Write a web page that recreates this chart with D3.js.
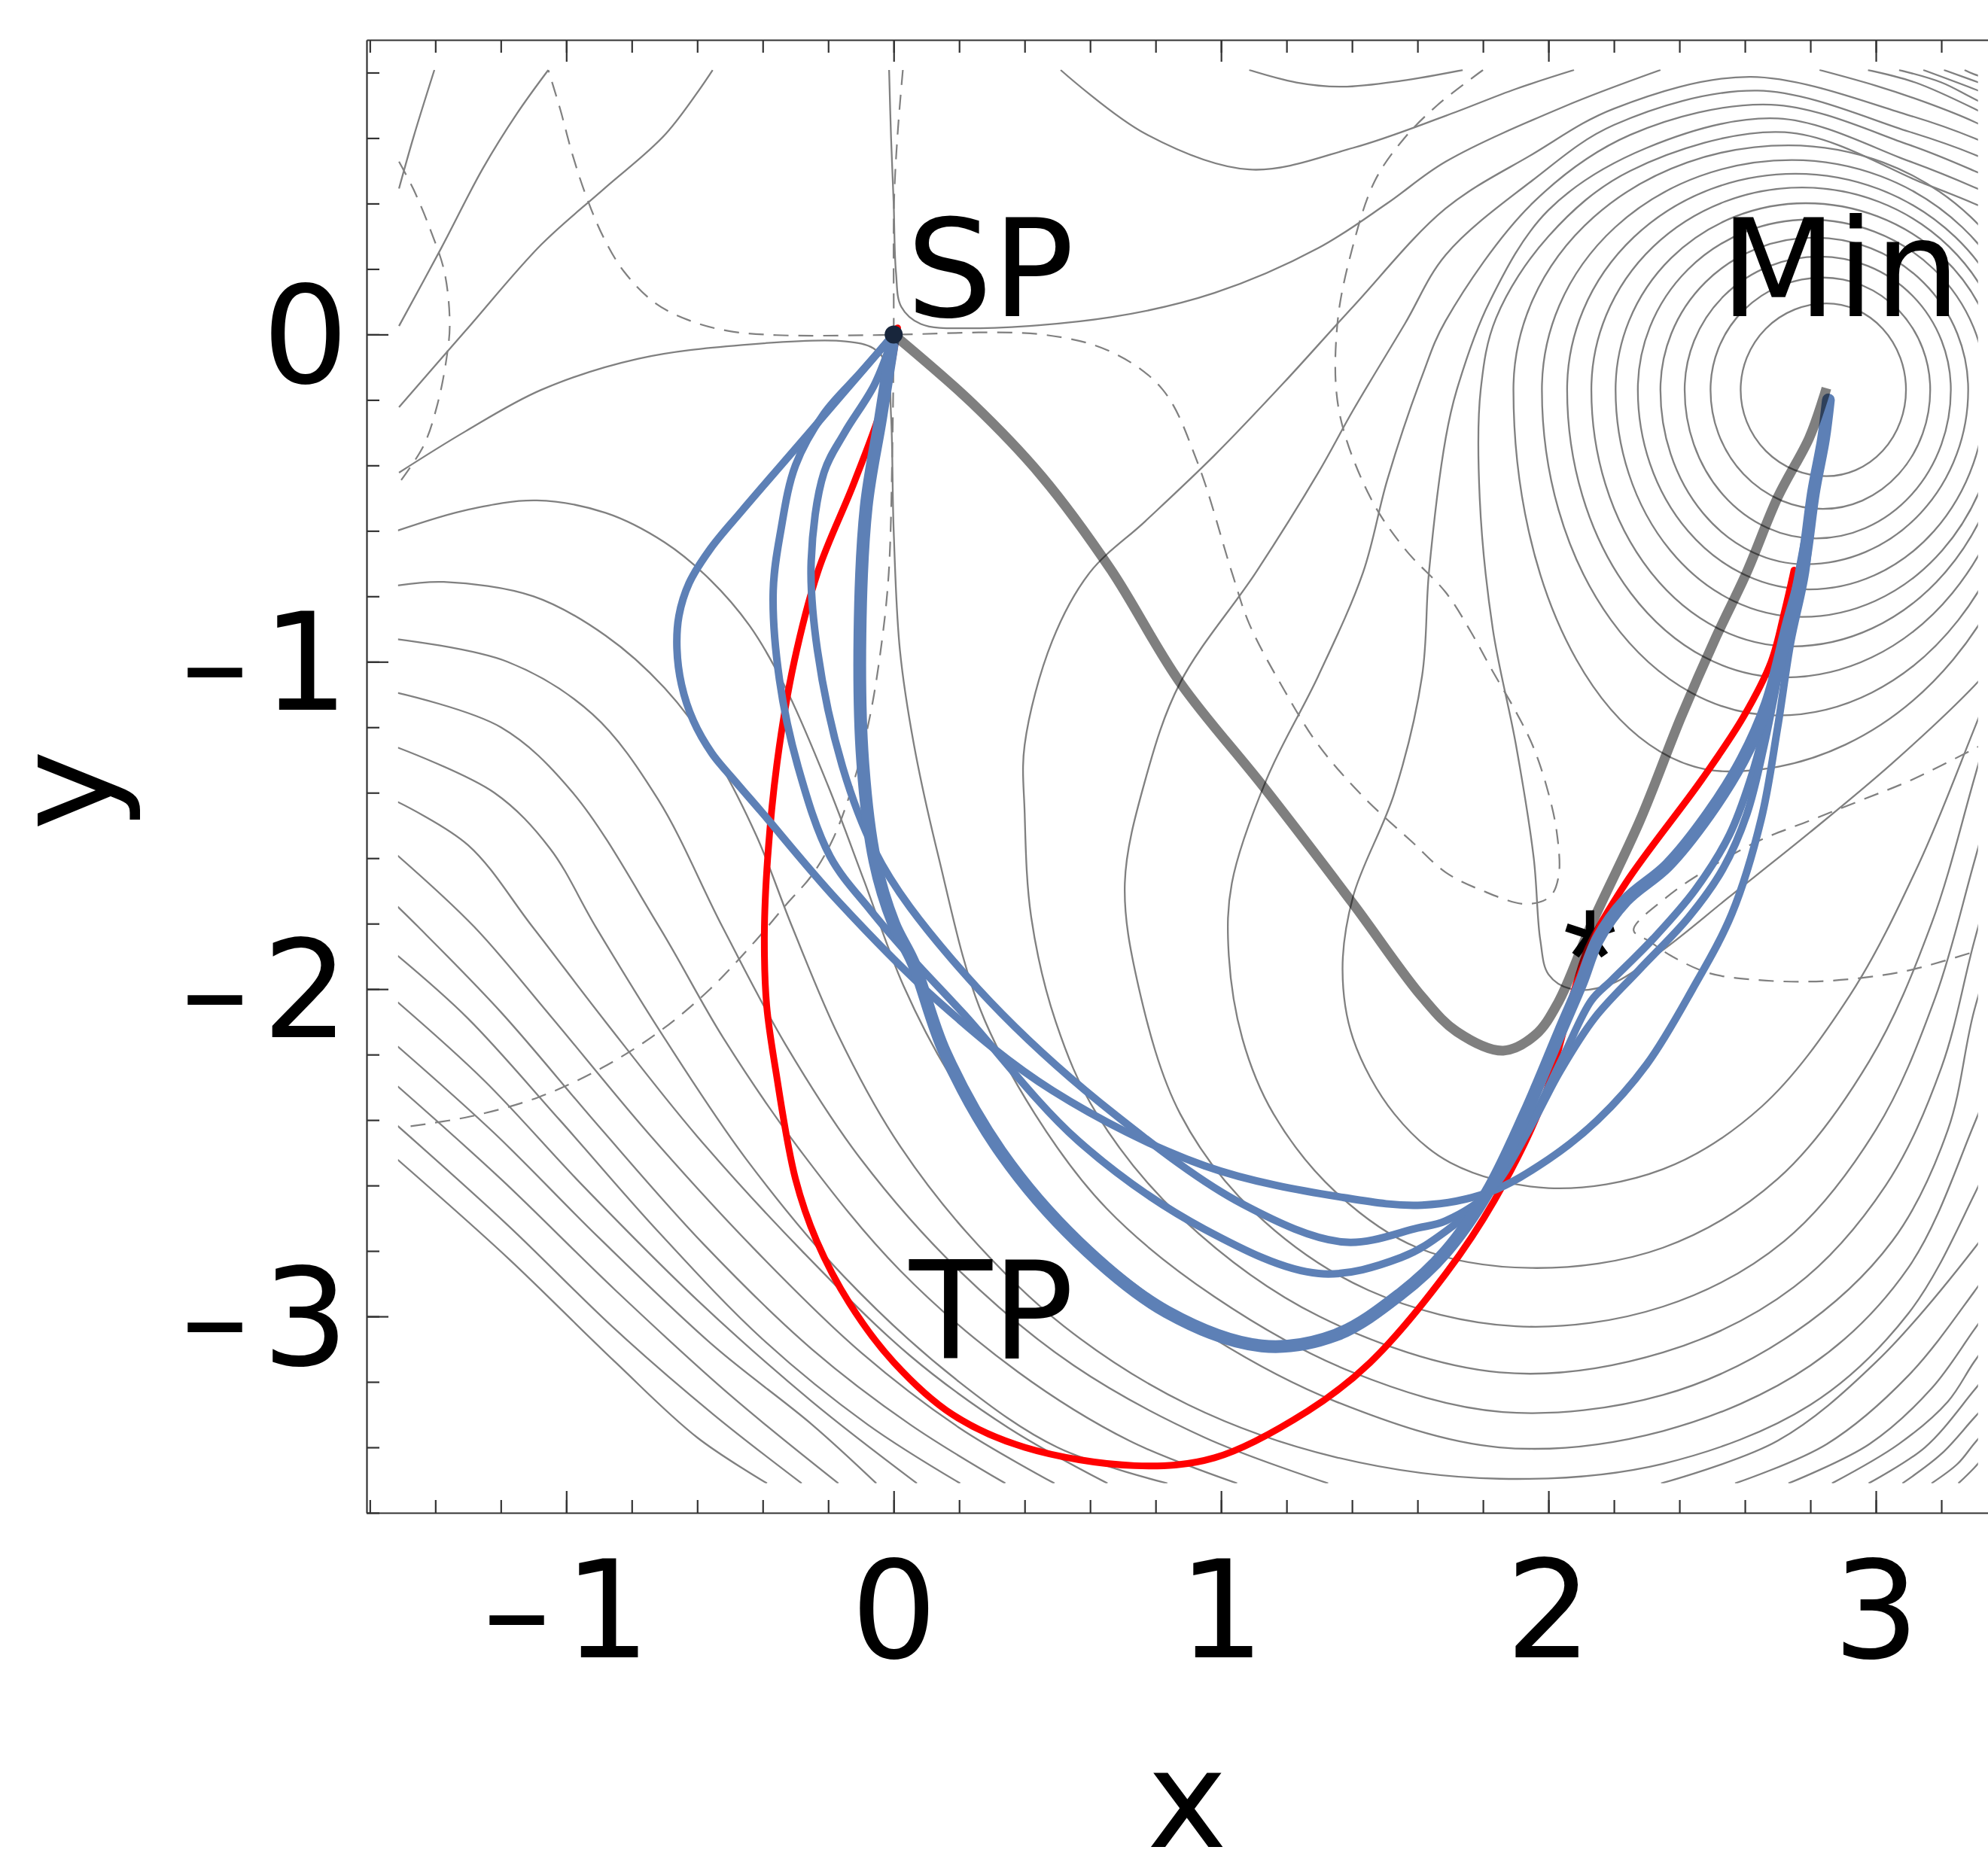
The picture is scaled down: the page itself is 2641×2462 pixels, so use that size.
<!DOCTYPE html>
<html>
<head>
<meta charset="utf-8">
<script src="https://cdn.jsdelivr.net/npm/d3@7"></script>
<style>
  body { margin: 0; background: #fff; }
  text { font-family: "DejaVu Sans", sans-serif; }
</style>
</head>
<body>
<svg id="chart"></svg>
<script>
// ---- tick labels ----
const xMajor = [-1, 0, 1, 2, 3];
const yMajor = [-3, -2, -1, 0];

// ---- point labels ----
const labelNames = ['SP', 'Min', 'TP'];
const labelAt = [[0.039, 0.056], [2.524, 0.056], [0.048, -3.128]];
const starAt = [2.127, -1.835];

// ---- trajectories (x, y) ----
const grayPath = [[0,0],[0.241,-0.211],[0.452,-0.433],[0.663,-0.718],[0.875,-1.064],[1.128,-1.380],
  [1.403,-1.739],[1.614,-2.024],[1.72,-2.13],[1.862,-2.188],[1.96,-2.14],[2.03,-2.04],[2.131,-1.803],
  [2.279,-1.486],[2.405,-1.169],[2.511,-0.926],[2.606,-0.726],[2.701,-0.496],[2.796,-0.317],[2.838,-0.20],[2.849,-0.164]];

const redPath = [[0.012,0.02],[-0.03,-0.2],[-0.12,-0.45],[-0.23,-0.72],[-0.304,-1.0],[-0.355,-1.30],
  [-0.385,-1.6],[-0.395,-1.834],[-0.388,-2.05],[-0.36,-2.25],[-0.30,-2.58],[-0.235,-2.77],[-0.135,-2.96],
  [0.0,-3.14],[0.18,-3.30],[0.40,-3.40],[0.737,-3.456],[0.980,-3.432],[1.265,-3.289],[1.455,-3.141],
  [1.686,-2.87],[1.835,-2.645],[1.98,-2.35],[2.08,-2.0],[2.120,-1.877],[2.236,-1.676],[2.469,-1.359],
  [2.595,-1.169],[2.680,-1.000],[2.722,-0.842],[2.75,-0.72]];

const blueLoop = [[0,0],[-0.263,-0.306],[-0.463,-0.538],[-0.56,-0.655],[-0.625,-0.76],[-0.656,-0.86],
  [-0.662,-0.96],[-0.648,-1.07],[-0.612,-1.18],[-0.555,-1.28],[-0.48,-1.37],[-0.405,-1.457],[-0.173,-1.728],
  [0.137,-2.038],[0.485,-2.31],[0.95,-2.54],[1.376,-2.637],[1.614,-2.66],[1.82,-2.62],[2.0,-2.52],[2.15,-2.40],
  [2.30,-2.23],[2.44,-2.0],[2.56,-1.77],[2.65,-1.48],[2.70,-1.20],[2.74,-0.94],[2.785,-0.726],[2.807,-0.496],
  [2.838,-0.338],[2.855,-0.2]];

const blueWide = [[0,0],[-0.10,-0.115],[-0.213,-0.242],[-0.30,-0.40],[-0.345,-0.60],[-0.368,-0.783],
  [-0.349,-1.054],[-0.291,-1.325],[-0.194,-1.595],[-0.07,-1.76],[0.05,-1.90],[0.214,-2.076],[0.563,-2.463],
  [0.950,-2.734],[1.298,-2.869],[1.55,-2.82],[1.686,-2.740],[1.82,-2.62],[1.93,-2.44],
  [2.046,-2.204],[2.131,-2.035],[2.194,-1.972],[2.321,-1.845],[2.448,-1.697],[2.553,-1.528],[2.617,-1.359],
  [2.669,-1.169],[2.72,-0.95],[2.77,-0.73],[2.81,-0.48],[2.84,-0.32],[2.855,-0.2]];

const blueMid = [[0,0],[-0.058,-0.152],[-0.15,-0.30],[-0.213,-0.422],[-0.252,-0.693],[-0.233,-0.964],
  [-0.155,-1.325],[-0.058,-1.577],[0.05,-1.75],[0.331,-2.076],[0.679,-2.386],[1.066,-2.657],[1.376,-2.773],
  [1.60,-2.73],[1.686,-2.708],[1.82,-2.62],[1.94,-2.43],
  [2.036,-2.25],[2.141,-2.088],[2.278,-1.940],[2.427,-1.782],[2.532,-1.634],[2.606,-1.465],[2.66,-1.25],
  [2.71,-1.0],[2.76,-0.75],[2.81,-0.48],[2.84,-0.32],[2.855,-0.2]];

const blueThick = [[0,0],[-0.04,-0.256],[-0.084,-0.527],[-0.103,-0.914],[-0.095,-1.30],[-0.057,-1.61],
  [0.0,-1.80],[0.06,-1.92],[0.156,-2.193],[0.33,-2.502],[0.563,-2.773],[0.834,-2.986],[1.124,-3.09],
  [1.350,-3.057],[1.55,-2.93],[1.686,-2.803],[1.814,-2.62],[1.93,-2.381],[2.036,-2.13],
  [2.10,-1.98],[2.15,-1.85],[2.236,-1.729],[2.363,-1.623],[2.490,-1.465],[2.595,-1.296],[2.669,-1.127],
  [2.733,-0.884],[2.775,-0.726],[2.81,-0.48],[2.84,-0.32],[2.855,-0.2]];

// ---- closed rings around Min: [top, right, bottom, left] ----
const rings = [
  [[2.849,0.095],[3.092,-0.169],[2.849,-0.433],[2.587,-0.169]],
  [[2.838,0.174],[3.166,-0.169],[2.838,-0.533],[2.495,-0.169]],
  [[2.828,0.238],[3.229,-0.169],[2.817,-0.623],[2.416,-0.169]],
  [[2.812,0.296],[3.282,-0.169],[2.786,-0.702],[2.342,-0.169]],
  [[2.796,0.351],[3.336,-0.169],[2.796,-0.779],[2.273,-0.169]],
  [[2.786,0.401],[3.38,-0.169],[2.775,-0.863],[2.205,-0.169]],
  [[2.775,0.449],[3.41,-0.169],[2.743,-0.953],[2.131,-0.169]],
  [[2.754,0.491],[3.445,-0.169],[2.722,-1.048],[2.057,-0.169]],
  [[2.743,0.533],[3.48,-0.169],[2.701,-1.164],[1.980,-0.169]],
  [[2.733,0.578],[3.52,-0.169],[2.55,-1.335],[1.893,-0.169]]
];

// ---- open contour lines ----
const upperLines = [
  [[-1.511,0.446],[-1.467,0.602],[-1.403,0.808]],
  [[-1.511,0.026],[-1.382,0.264],[-1.255,0.507],[-1.150,0.676],[-1.055,0.808]],
  [[-1.511,-0.222],[-1.308,0.011],[-1.076,0.275],[-0.886,0.444],[-0.696,0.613],[-0.553,0.808]],
  [[-0.014,0.808],[-0.008,0.6],[0.0,0.40],[0.007,0.190],[0.023,0.085],[0.083,0.032],[0.241,0.019],[0.664,0.053],
   [0.980,0.127],[1.297,0.264],[1.508,0.401],[1.686,0.528],[2.047,0.696],[2.342,0.808]],
  [[0.51,0.808],[0.769,0.613],[1.086,0.504],[1.403,0.570],[1.686,0.668],[1.9,0.75],[2.078,0.808]],
  [[1.086,0.808],[1.23,0.77],[1.371,0.757],[1.55,0.775],[1.738,0.808]],
  [[2.828,0.808],[3.0,0.76],[3.15,0.71],[3.3,0.65],[3.45,0.57]],
  [[2.976,0.808],[3.12,0.77],[3.3,0.69],[3.45,0.61]],
  [[3.071,0.808],[3.2,0.77],[3.3,0.72],[3.45,0.65]],
  [[3.145,0.808],[3.3,0.75],[3.45,0.69]],
  [[3.208,0.808],[3.3,0.775],[3.45,0.72]],
  [[3.271,0.808],[3.3,0.795],[3.45,0.75]]
];

const horseshoes = [
  [[3.45,0.33],[3.30,0.40],[3.15,0.46],[2.722,0.618],[2.25,0.50],[2.0,0.30],[1.84,0.05],[1.793,-0.169],[1.79,-0.5],
   [1.83,-0.9],[1.9,-1.25],[1.955,-1.6],[1.975,-1.85],[2.0,-1.955],[2.07,-2.0],[2.19,-1.985],[2.35,-1.88],[2.55,-1.72],
   [2.8,-1.52],[3.05,-1.31],[3.3,-1.074],[3.45,-0.9]],
  [[3.45,0.38],[3.30,0.45],[3.1,0.53],[2.701,0.660],[2.3,0.57],[2.0,0.38],[1.82,0.10],[1.72,-0.169],[1.686,-0.317],
   [1.635,-0.726],[1.614,-1.043],[1.529,-1.402],[1.403,-1.718],[1.371,-1.940],[1.403,-2.151],[1.529,-2.381],[1.70,-2.53],
   [2.0,-2.608],[2.35,-2.55],[2.65,-2.36],[2.92,-2.02],[3.13,-1.62],[3.3,-1.206],[3.42,-0.9]],
  [[3.45,0.43],[3.30,0.50],[3.1,0.58],[2.680,0.702],[2.25,0.61],[1.95,0.40],[1.686,0.042],[1.614,-0.127],[1.508,-0.443],
   [1.434,-0.726],[1.297,-1.043],[1.139,-1.359],[1.033,-1.676],[1.023,-1.887],[1.065,-2.151],[1.160,-2.381],[1.35,-2.62],
   [1.6,-2.79],[1.95,-2.852],[2.35,-2.79],[2.7,-2.58],[2.98,-2.22],[3.17,-1.80],[3.3,-1.359],[3.4,-1.0]],
  [[3.45,0.48],[3.30,0.55],[3.1,0.62],[2.638,0.745],[2.2,0.64],[1.95,0.47],[1.686,0.243],[1.561,0.032],[1.403,-0.232],
   [1.297,-0.422],[1.107,-0.726],[0.875,-1.064],[0.769,-1.359],[0.706,-1.676],[0.748,-1.993],[0.875,-2.381],[1.1,-2.68],
   [1.45,-2.92],[1.9,-3.030],[2.35,-2.97],[2.72,-2.77],[3.0,-2.43],[3.18,-2.03],[3.3,-1.613],[3.4,-1.25]],
  [[3.45,0.53],[3.30,0.60],[3.1,0.67],[2.617,0.787],[2.2,0.69],[1.95,0.55],[1.686,0.385],[1.403,0.085],[1.192,-0.147],
   [0.980,-0.369],[0.769,-0.570],[0.600,-0.726],[0.484,-0.937],[0.40,-1.254],[0.40,-1.46],[0.42,-1.78],[0.495,-2.10],
   [0.62,-2.381],[0.88,-2.70],[1.3,-3.0],[1.85,-3.171],[2.35,-3.11],[2.75,-2.91],[3.03,-2.60],[3.2,-2.24],[3.3,-1.856],[3.4,-1.5]],
  [[-1.511,-0.422],[-1.308,-0.296],[-1.076,-0.169],[-0.780,-0.074],[-0.463,-0.032],[-0.147,-0.021],[-0.062,-0.042],
   [-0.022,-0.09],[-0.008,-0.25],[0.0,-0.60],[0.019,-0.964],[0.062,-1.254],[0.136,-1.592],[0.262,-2.056],[0.431,-2.381],
   [0.65,-2.67],[0.98,-2.94],[1.4,-3.17],[1.86,-3.292],[2.35,-3.24],[2.75,-3.05],[3.05,-2.77],[3.22,-2.43],[3.3,-2.067],[3.4,-1.75]],
  [[-1.515,-0.599],[-1.30,-0.535],[-1.09,-0.507],[-0.88,-0.545],[-0.70,-0.635],[-0.56,-0.75],[-0.44,-0.89],[-0.33,-1.08],
   [-0.20,-1.38],[-0.09,-1.67],[0.03,-1.99],[0.17,-2.26],[0.32,-2.47],[0.58,-2.77],[0.95,-3.05],[1.35,-3.26],[1.85,-3.40],
   [2.35,-3.35],[2.8,-3.15],[3.1,-2.85],[3.3,-2.413],[3.4,-2.15]],
  [[-1.515,-0.767],[-1.374,-0.756],[-1.10,-0.80],[-0.88,-0.92],[-0.70,-1.08],[-0.55,-1.28],[-0.42,-1.53],[-0.31,-1.81],
   [-0.17,-2.14],[0.0,-2.45],[0.22,-2.74],[0.52,-3.03],[0.9,-3.27],[1.35,-3.43],[1.85,-3.496],[2.35,-3.45],[2.8,-3.27],
   [3.1,-2.99],[3.3,-2.629],[3.4,-2.4]]
];

const lowerLeftLines = [
  [[-1.515,-0.931],[-1.18,-1.00],[-0.92,-1.16],[-0.72,-1.42],[-0.523,-1.81],[-0.33,-2.17],[-0.10,-2.52],[0.20,-2.86],[0.55,-3.15],[0.95,-3.37],[1.327,-3.51]],
  [[-1.515,-1.095],[-1.20,-1.20],[-0.98,-1.40],[-0.716,-1.81],[-0.52,-2.15],[-0.28,-2.50],[0.02,-2.86],[0.38,-3.17],[0.72,-3.38],[1.049,-3.51]],
  [[-1.515,-1.262],[-1.22,-1.40],[-1.05,-1.57],[-0.910,-1.81],[-0.70,-2.15],[-0.45,-2.52],[-0.15,-2.88],[0.20,-3.20],[0.50,-3.40],[0.836,-3.51]],
  [[-1.515,-1.428],[-1.30,-1.56],[-1.103,-1.81],[-0.88,-2.10],[-0.60,-2.45],[-0.28,-2.80],[0.05,-3.12],[0.35,-3.34],[0.653,-3.51]],
  [[-1.515,-1.592],[-1.281,-1.81],[-1.05,-2.08],[-0.75,-2.44],[-0.42,-2.80],[-0.10,-3.11],[0.20,-3.34],[0.491,-3.51]],
  [[-1.515,-1.748],[-1.452,-1.81],[-1.20,-2.07],[-0.90,-2.42],[-0.58,-2.78],[-0.25,-3.10],[0.05,-3.33],[0.341,-3.51]],
  [[-1.515,-1.898],[-1.30,-2.09],[-1.02,-2.40],[-0.72,-2.74],[-0.40,-3.07],[-0.08,-3.33],[0.203,-3.51]],
  [[-1.515,-2.040],[-1.25,-2.28],[-0.95,-2.60],[-0.60,-2.95],[-0.25,-3.26],[0.071,-3.51]],
  [[-1.515,-2.175],[-1.22,-2.44],[-0.90,-2.76],[-0.55,-3.09],[-0.25,-3.33],[-0.053,-3.51]],
  [[-1.515,-2.297],[-1.20,-2.58],[-0.85,-2.92],[-0.50,-3.24],[-0.169,-3.51]],
  [[-1.515,-2.418],[-1.18,-2.72],[-0.85,-3.04],[-0.55,-3.30],[-0.281,-3.51]],
  [[-1.515,-2.521],[-1.18,-2.82],[-0.85,-3.14],[-0.60,-3.37],[-0.387,-3.51]]
];

const lowerRightLines = [
  [[2.344,-3.51],[2.7,-3.38],[3.0,-3.14],[3.3,-2.793],[3.4,-2.65]],
  [[2.570,-3.51],[2.85,-3.39],[3.1,-3.18],[3.3,-2.925],[3.4,-2.78]],
  [[2.733,-3.51],[2.98,-3.39],[3.17,-3.22],[3.3,-3.041],[3.4,-2.9]],
  [[2.866,-3.51],[3.07,-3.39],[3.22,-3.26],[3.3,-3.139],[3.4,-3.0]],
  [[2.978,-3.51],[3.15,-3.40],[3.3,-3.226],[3.4,-3.1]],
  [[3.081,-3.51],[3.2,-3.42],[3.3,-3.310],[3.4,-3.2]],
  [[3.170,-3.51],[3.25,-3.45],[3.3,-3.389],[3.4,-3.27]],
  [[3.252,-3.51],[3.3,-3.463],[3.4,-3.35]]
];

// ---- dashed curves ----
const dashedLines = [
  [[1.80,0.808],[1.66,0.70],[1.56,0.60],[1.47,0.47],[1.40,0.26],[1.355,0.03],[1.36,-0.232],[1.455,-0.496],[1.561,-0.655],
   [1.687,-0.789],[1.761,-0.905],[1.825,-1.021],[1.898,-1.148],[1.951,-1.254],[1.994,-1.380],[2.025,-1.518],[2.031,-1.655],
   [2.004,-1.718],[1.930,-1.740],[1.793,-1.697],[1.687,-1.644],[1.582,-1.549],[1.434,-1.412],[1.297,-1.254],[1.192,-1.085],
   [1.086,-0.884],[1.033,-0.727],[0.928,-0.391],[0.822,-0.169],[0.664,-0.053],[0.452,0],[0.03,0],[-0.062,-0.002],
   [-0.358,-0.002],[-0.506,0.011],[-0.622,0.042],[-0.727,0.095],[-0.822,0.190],[-0.886,0.296],[-0.939,0.422],
   [-0.981,0.549],[-1.018,0.686],[-1.055,0.808]],
  [[0.028,0.808],[0.012,0.613],[0.001,0.401],[0.0,0.0],[-0.004,-0.341],[-0.015,-0.727],[-0.036,-0.937],[-0.073,-1.169],
   [-0.126,-1.380],[-0.189,-1.549],[-0.252,-1.655],[-0.326,-1.739],[-0.42,-1.85],[-0.561,-2.00],[-0.716,-2.13],
   [-0.890,-2.24],[-1.084,-2.33],[-1.297,-2.39],[-1.50,-2.422]],
  [[-1.511,0.528],[-1.467,0.444],[-1.414,0.317],[-1.372,0.190],[-1.356,0.032],[-1.366,-0.074],[-1.393,-0.211],
   [-1.435,-0.338],[-1.511,-0.454]],
  [[3.35,-1.24],[3.113,-1.359],[2.955,-1.423],[2.796,-1.486],[2.638,-1.549],[2.469,-1.644],[2.36,-1.72],[2.26,-1.82],
   [2.31,-1.855],[2.374,-1.898],[2.490,-1.951],[2.638,-1.972],[2.796,-1.977],[2.955,-1.966],[3.113,-1.940],[3.35,-1.87]]
];

// ---- drawing ----
const width = 2641, height = 2462;
const svg = d3.select('#chart').attr('width', width).attr('height', height);

const x = d3.scaleLinear().domain([-1.61, 3.4]).range([487, 2666]);
const y = d3.scaleLinear().domain([-3.6, 0.9]).range([2010, 53]);

const smooth = d3.line().x(d => x(d[0])).y(d => y(d[1])).curve(d3.curveCatmullRom.alpha(0.5));

// a ring is four quarter ellipses joining its top, right, bottom and left points
function ringPath(r) {
  const [t, rt, b, l] = r.map(p => [x(p[0]), y(p[1])]);
  const yc = rt[1];
  return `M${t[0]},${t[1]}` +
    `A${rt[0] - t[0]},${yc - t[1]} 0 0 1 ${rt[0]},${rt[1]}` +
    `A${rt[0] - b[0]},${b[1] - yc} 0 0 1 ${b[0]},${b[1]}` +
    `A${b[0] - l[0]},${b[1] - yc} 0 0 1 ${l[0]},${l[1]}` +
    `A${t[0] - l[0]},${yc - t[1]} 0 0 1 ${t[0]},${t[1]}Z`;
}

svg.append('clipPath').attr('id', 'field')
  .append('rect')
    .attr('x', x(-1.514)).attr('y', y(0.81))
    .attr('width', x(3.312) - x(-1.514)).attr('height', y(-3.51) - y(0.81));

// contour lines
const field = svg.append('g').attr('clip-path', 'url(#field)')
  .attr('fill', 'none').attr('stroke', '#808080').attr('stroke-width', 2.3);

field.selectAll('path.ring')
  .data(rings)
  .enter().append('path')
    .attr('class', 'ring')
    .attr('d', ringPath);

field.selectAll('path.open')
  .data(upperLines.concat(horseshoes, lowerLeftLines, lowerRightLines))
  .enter().append('path')
    .attr('class', 'open')
    .attr('d', smooth);

field.selectAll('path.dash')
  .data(dashedLines)
  .enter().append('path')
    .attr('class', 'dash')
    .attr('d', smooth)
    .attr('stroke-width', 2.2)
    .attr('stroke-dasharray', '20 13');

// frame and ticks
const minorX = d3.range(-16, 35, 2).map(v => v / 10);
const minorY = d3.range(-36, 9, 2).map(v => v / 10);
const tickText = d => (d < 0 ? '\u2013\u200A' + Math.abs(d) : String(d));

function styleAxis(g) {
  g.attr('color', '#333');
  g.selectAll('path, line').attr('stroke-width', 2.2);
}

svg.append('g')
  .attr('transform', `translate(0,${y(-3.6)})`)
  .call(d3.axisBottom(x).tickValues(minorX).tickSize(-17).tickSizeOuter(0).tickFormat(''))
  .call(styleAxis);
svg.append('g')
  .attr('transform', `translate(0,${y(-3.6)})`)
  .call(d3.axisBottom(x).tickValues(xMajor).tickSize(-29).tickSizeOuter(0).tickPadding(64).tickFormat(tickText))
  .call(styleAxis)
  .call(g => g.select('.domain').remove())
  .call(g => g.selectAll('text').attr('font-size', 180).attr('font-family', 'DejaVu Sans').attr('fill', '#000'));

svg.append('g')
  .attr('transform', `translate(0,${y(0.9)})`)
  .call(d3.axisTop(x).tickValues(minorX).tickSize(-17).tickSizeOuter(0).tickFormat(''))
  .call(styleAxis);
svg.append('g')
  .attr('transform', `translate(0,${y(0.9)})`)
  .call(d3.axisTop(x).tickValues(xMajor).tickSize(-29).tickSizeOuter(0).tickFormat(''))
  .call(styleAxis)
  .call(g => g.select('.domain').remove());

svg.append('g')
  .attr('transform', `translate(${x(-1.61)},0)`)
  .call(d3.axisLeft(y).tickValues(minorY).tickSize(-17).tickSizeOuter(0).tickFormat(''))
  .call(styleAxis);
svg.append('g')
  .attr('transform', `translate(${x(-1.61)},0)`)
  .call(d3.axisLeft(y).tickValues(yMajor).tickSize(-29).tickSizeOuter(0).tickPadding(24).tickFormat(tickText))
  .call(styleAxis)
  .call(g => g.select('.domain').remove())
  .call(g => g.selectAll('text').attr('font-size', 180).attr('font-family', 'DejaVu Sans')
    .attr('fill', '#000').attr('dy', '0.35em'));

// star marker
const starArms = [90, 18, -54, -126, 162];
svg.append('path')
  .attr('d', starArms.map(a => {
    const cx = x(starAt[0]), cy = y(starAt[1]);
    const r = 33, t = a * Math.PI / 180;
    return `M${cx},${cy}L${cx + r * Math.cos(t)},${cy - r * Math.sin(t)}`;
  }).join(''))
  .attr('stroke', '#000').attr('stroke-width', 11).attr('fill', 'none');

// trajectories
svg.append('path').datum(redPath)
  .attr('d', smooth).attr('fill', 'none')
  .attr('stroke', '#ff0000').attr('stroke-width', 9).attr('stroke-linecap', 'round');

svg.append('g').selectAll('path')
  .data([blueLoop, blueWide, blueMid])
  .enter().append('path')
    .attr('d', smooth).attr('fill', 'none')
    .attr('stroke', '#5d80b6').attr('stroke-width', 10).attr('stroke-linecap', 'round');

svg.append('path').datum(blueThick)
  .attr('d', smooth).attr('fill', 'none')
  .attr('stroke', '#5d80b6').attr('stroke-width', 17).attr('stroke-linecap', 'round');

svg.append('path').datum(grayPath)
  .attr('d', smooth).attr('fill', 'none')
  .attr('stroke', '#000').attr('stroke-opacity', 0.5).attr('stroke-width', 13);

// saddle point marker
svg.append('circle')
  .attr('cx', x(0)).attr('cy', y(0)).attr('r', 12)
  .attr('fill', '#18263c');

// labels
svg.append('g').selectAll('text')
  .data(labelNames)
  .enter().append('text')
    .attr('x', (d, i) => x(labelAt[i][0]))
    .attr('y', (d, i) => y(labelAt[i][1]))
    .attr('font-size', 180)
    .text(d => d);

svg.append('text')
  .attr('x', 1577).attr('y', 2454)
  .attr('text-anchor', 'middle').attr('font-size', 180)
  .text('x');

svg.append('text')
  .attr('transform', 'translate(148,1050) rotate(-90)')
  .attr('text-anchor', 'middle').attr('font-size', 180)
  .text('y');
</script>
</body>
</html>
